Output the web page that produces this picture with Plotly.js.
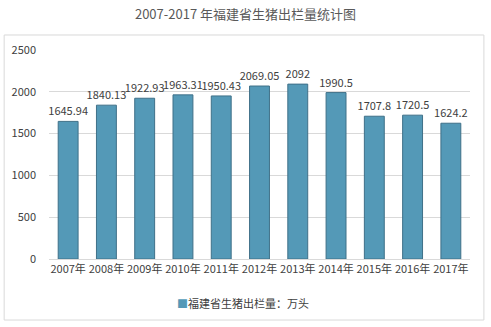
<!DOCTYPE html>
<html><head><meta charset="utf-8">
<script src="https://cdn.plot.ly/plotly-3.0.1.min.js"></script>
<style>html,body{margin:0;padding:0;background:#fff}</style>
</head><body>
<div id="chart" style="width:491px;height:327px"></div>
<script>
const years = ["2007年","2008年","2009年","2010年","2011年","2012年","2013年","2014年","2015年","2016年","2017年"];
const values = [1645.94,1840.13,1922.93,1963.31,1950.43,2069.05,2092,1990.5,1707.8,1720.5,1624.2];
const labels = ["1645.94","1840.13","1922.93","1963.31","1950.43","2069.05","2092","1990.5","1707.8","1720.5","1624.2"];
const seriesName = "福建省生猪出栏量：万头";
const yTicks = [0,500,1000,1500,2000,2500];
const barColor = "#5499b7";

const font = "'Noto Sans CJK SC', 'Microsoft YaHei', sans-serif";
const trace = {
  type: "bar", x: years, y: values, name: seriesName,
  text: labels, textposition: "outside", cliponaxis: false,
  constraintext: "none", textangle: 0,
  textfont: {size: 11, color: "#404040", family: font},
  marker: {color: barColor, line: {color: "#3f7088", width: 1}},
  width: 0.52
};
const layout = {
  width: 491, height: 327,
  margin: {l: 49, r: 21, t: 50, b: 68},
  paper_bgcolor: "#fff", plot_bgcolor: "#fff",
  font: {family: font, size: 11, color: "#404040"},
  title: {text: "2007-2017 年福建省生猪出栏量统计图", x: 0.5, xref: "container", y: 0.955, yanchor: "middle",
          font: {size: 13, color: "#595959", family: font}},
  xaxis: {type: "category", showgrid: false, showline: true, linecolor: "#d9d9d9",
          tickfont: {size: 11, color: "#404040"}, ticks: "", fixedrange: true},
  yaxis: {range: [0, 2500], tickvals: yTicks, showgrid: true, gridcolor: "#d9d9d9",
          zeroline: false, showline: false, ticks: "", ticklabelstandoff: 12,
          tickfont: {size: 11, color: "#404040"}},
  showlegend: false,
  annotations: [{xref: "paper", yref: "paper", x: 0.46, y: -0.21, xanchor: "center", yanchor: "middle",
                 showarrow: false, text: "<span style='color:" + barColor + "'>■</span>" + seriesName,
                 font: {size: 11, color: "#404040", family: font}}],
  bargap: 0.48,
  shapes: [{type: "rect", xref: "paper", yref: "paper", x0: -0.1065, x1: 1.033, y0: -0.292, y1: 1.0718,
            line: {color: "#d9d9d9", width: 1}, layer: "below"}]
};
Plotly.newPlot("chart", [trace], layout, {displayModeBar: false, staticPlot: true});
</script>
</body></html>
